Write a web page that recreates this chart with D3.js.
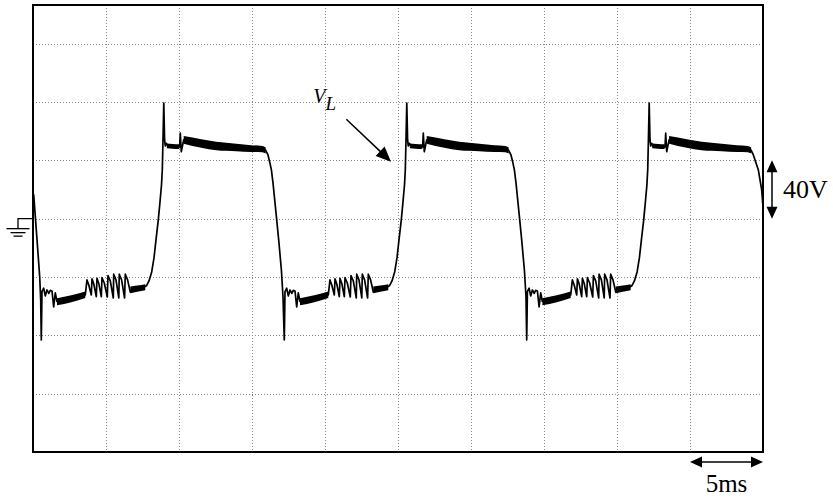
<!DOCTYPE html>
<html><head><meta charset="utf-8">
<script src="https://cdn.jsdelivr.net/npm/d3@7"></script>
<style>
html,body{margin:0;padding:0;background:#fff;}
svg{display:block;}
</style></head>
<body>
<svg id="c" width="833" height="500"></svg>
<script>
// ---- data (time in ms, voltage in V) ----
const timeGrid = [5,10,15,20,25,30,35,40,45];
const voltGrid = [-120,-80,-40,0,40,80,120];
const timeDomain = [0, 50];
const voltDomain = [-160, 146.5];

const leadIn = [[0,14.9],[0.048,16.3],[0.226,-7.7],[0.459,-39.8],[0.527,-55.7]];

const cycle1 = [[0.568,-83.2],[0.616,-50.1],[0.732,-47.7],[0.842,-53.0],[0.958,-48.9],[1.082,-51.3],[1.184,-49.2],[1.301,-49.6],[1.417,-60.5],[1.527,-50.9],[1.643,-56.8],[3.582,-52.3],
[3.698,-42.0],[3.821,-45.5],[3.993,-52.3],[4.041,-41.3],[4.164,-44.8],[4.335,-53.5],[4.383,-40.9],[4.506,-44.4],[4.678,-53.5],[4.726,-40.5],[4.883,-44.1],[5.089,-53.7],[5.136,-39.1],[5.294,-42.7],[5.500,-54.4],[5.527,-38.1],[5.684,-42.0],[5.876,-54.4],[5.910,-38.1],[6.068,-42.0],[6.273,-54.4],[6.321,-38.1],[6.479,-42.0],[6.664,-50.3],
[7.143,-47.9],[7.691,-46.5],[7.787,-45.8],[7.945,-42.7],[8.130,-36.5],[8.287,-26.9],[8.424,-14.6],[8.582,-0.9],[8.698,11.5],[8.801,23.1],[8.856,33.4],[8.904,54.0],[8.958,79.3],[9.013,54.0],[9.061,49.8],[9.130,51.6],[9.267,49.2],[9.472,50.2],[9.678,48.8],[9.883,49.8],[10.041,49.2],[10.089,58.6],[10.157,45.9],[10.321,54.0],[11.527,51.6],[12.554,49.8],[14.952,48.1],[15.705,47.8],[15.938,46.8],[16.095,43.7],[16.212,38.9],[16.328,33.4],[16.438,24.5],[16.671,1.4],[16.828,-14.6],[17.013,-35.2],[17.123,-53.5]];

const cycle2 = [[17.212,-83.2],[17.260,-50.1],[17.376,-47.7],[17.486,-53.0],[17.602,-48.9],[17.726,-51.3],[17.828,-49.2],[17.945,-49.6],[18.061,-60.5],[18.171,-50.9],[18.287,-56.8],[20.226,-52.3],
[20.342,-42.0],[20.465,-45.5],[20.637,-52.3],[20.685,-41.3],[20.808,-44.8],[20.979,-53.5],[21.027,-40.9],[21.150,-44.4],[21.322,-53.5],[21.370,-40.5],[21.527,-44.1],[21.733,-53.7],[21.780,-39.1],[21.938,-42.7],[22.144,-54.4],[22.171,-38.1],[22.328,-42.0],[22.520,-54.4],[22.554,-38.1],[22.712,-42.0],[22.917,-54.4],[22.965,-38.1],[23.123,-42.0],[23.308,-50.3],
[23.787,-47.9],[24.335,-46.5],[24.431,-45.8],[24.589,-42.7],[24.774,-36.5],[24.931,-26.9],[25.068,-14.6],[25.226,-0.9],[25.342,11.5],[25.445,23.1],[25.500,33.4],[25.548,54.0],[25.602,79.3],[25.657,54.0],[25.705,49.8],[25.774,51.6],[25.911,49.2],[26.116,50.2],[26.322,48.8],[26.527,49.8],[26.685,49.2],[26.733,58.6],[26.801,45.9],[26.965,54.0],[28.171,51.6],[29.198,49.8],[31.596,48.1],[32.349,47.8],[32.582,46.8],[32.739,43.7],[32.856,38.9],[32.972,33.4],[33.082,24.5],[33.315,1.4],[33.472,-14.6],[33.657,-35.2],[33.767,-53.5]];

const cycle3 = [[33.815,-83.2],[33.863,-50.1],[33.979,-47.7],[34.089,-53.0],[34.205,-48.9],[34.329,-51.3],[34.431,-49.2],[34.548,-49.6],[34.664,-60.5],[34.774,-50.9],[34.890,-56.8],[36.829,-52.3],
[36.945,-42.0],[37.068,-45.5],[37.240,-52.3],[37.288,-41.3],[37.411,-44.8],[37.582,-53.5],[37.630,-40.9],[37.753,-44.4],[37.925,-53.5],[37.973,-40.5],[38.130,-44.1],[38.336,-53.7],[38.383,-39.1],[38.541,-42.7],[38.747,-54.4],[38.774,-38.1],[38.931,-42.0],[39.123,-54.4],[39.157,-38.1],[39.315,-42.0],[39.520,-54.4],[39.568,-38.1],[39.726,-42.0],[39.911,-50.3],
[40.390,-47.9],[40.938,-46.5],[41.034,-45.8],[41.192,-42.7],[41.377,-36.5],[41.534,-26.9],[41.671,-14.6],[41.829,-0.9],[41.945,11.5],[42.048,23.1],[42.103,33.4],[42.151,54.0],[42.205,79.3],[42.260,54.0],[42.308,49.8],[42.377,51.6],[42.514,49.2],[42.719,50.2],[42.925,48.8],[43.130,49.8],[43.288,49.2],[43.336,58.6],[43.404,45.9],[43.568,54.0],[44.774,51.6],[45.801,49.8],[48.199,48.1],[48.950,47.8],[49.190,46.8],[49.340,43.7],[49.500,38.9],[49.680,33.4],[49.910,19.7],[50.000,8.0]];

// noise band envelopes [t, upper V, lower V]; null separates segments
const noiseBands = [
 [1.643,-54.5,-59.4],[2.623,-52.5,-57.3],[3.582,-49.9,-54.4], null,
 [6.664,-46.6,-51.1],[7.143,-45.9,-50.1],[7.691,-44.9,-49.1], null,
 [9.168,51.5,48.3],[9.568,51.2,48.0],[10.018,51.0,47.8], null,
 [10.321,56.6,51.4],[11.527,54.5,48.6],[12.554,52.8,46.9],[13.924,51.4,46.2],[14.952,50.4,45.7],[15.705,49.9,45.5],[15.938,48.8,44.7], null,
 [18.287,-54.5,-59.4],[19.267,-52.5,-57.3],[20.226,-49.9,-54.4], null,
 [23.308,-46.6,-51.1],[23.787,-45.9,-50.1],[24.335,-44.9,-49.1], null,
 [25.812,51.5,48.3],[26.212,51.2,48.0],[26.662,51.0,47.8], null,
 [26.965,56.6,51.4],[28.171,54.5,48.6],[29.198,52.8,46.9],[30.568,51.4,46.2],[31.596,50.4,45.7],[32.349,49.9,45.5],[32.582,48.8,44.7], null,
 [34.890,-54.5,-59.4],[35.870,-52.5,-57.3],[36.829,-49.9,-54.4], null,
 [39.911,-46.6,-51.1],[40.390,-45.9,-50.1],[40.938,-44.9,-49.1], null,
 [42.415,51.5,48.3],[42.815,51.2,48.0],[43.265,51.0,47.8], null,
 [43.568,56.6,51.4],[44.774,54.5,48.6],[45.801,52.8,46.9],[47.171,51.4,46.2],[48.199,50.4,45.7],[48.950,49.9,45.5],[49.190,48.8,44.7]
];

const voltScaleMark = [0, 40];      // one division, volts
const timeScaleMark = [45, 50];     // one division, ms
const voltLabel = "40V";
const timeLabel = "5ms";
const traceName = ["V", "L"];
const traceArrow = [[21.46, 68.2], [24.52, 39.1]]; // in (ms, V)
const traceNameAt = [19.2, 79.3];

// ---- drawing ----
const svg = d3.select("#c");
const box = {left:33, top:5, right:763, bottom:452};
const x = d3.scaleLinear().domain(timeDomain).range([box.left, box.right]);
const y = d3.scaleLinear().domain(voltDomain).range([box.bottom, box.top]);

svg.append("rect").attr("width",833).attr("height",500).attr("fill","#fff");

svg.append("defs").append("clipPath").attr("id","clip")
  .append("rect").attr("x",box.left).attr("y",box.top)
  .attr("width",box.right-box.left).attr("height",box.bottom-box.top);

const grid = svg.append("g").attr("stroke","#8a8a8a").attr("stroke-width",1).attr("stroke-dasharray","1,2");
grid.selectAll("line.v").data(timeGrid).join("line").attr("class","v")
  .attr("x1",d=>Math.round(x(d))+0.5).attr("x2",d=>Math.round(x(d))+0.5)
  .attr("y1",box.top).attr("y2",box.bottom);
grid.selectAll("line.h").data(voltGrid).join("line").attr("class","h")
  .attr("y1",d=>Math.round(y(d))+0.5).attr("y2",d=>Math.round(y(d))+0.5)
  .attr("x1",box.left).attr("x2",box.right);

const plot = svg.append("g").attr("clip-path","url(#clip)");
const area = d3.area().defined(d=>d!==null)
  .x(d=>x(d[0])).y0(d=>y(d[2])).y1(d=>y(d[1])).curve(d3.curveMonotoneX);
plot.append("path").attr("d",area(noiseBands)).attr("fill","#000");

const trace = leadIn.concat(cycle1, cycle2, cycle3);
const line = d3.line().x(d=>x(d[0])).y(d=>y(d[1]));
plot.append("path").attr("d",line(trace)).attr("fill","none")
  .attr("stroke","#000").attr("stroke-width",1.7).attr("stroke-linejoin","round");

// frame
svg.append("rect").attr("x",box.left).attr("y",box.top)
  .attr("width",box.right-box.left).attr("height",box.bottom-box.top)
  .attr("fill","none").attr("stroke","#000").attr("stroke-width",2);

// arrow helper
function head(g, tx, ty, fx, fy, len, hw){
  const dx=tx-fx, dy=ty-fy, L=Math.hypot(dx,dy), ux=dx/L, uy=dy/L;
  const bx=tx-ux*len, by=ty-uy*len;
  g.append("path").attr("d",`M${tx},${ty}L${bx-uy*hw},${by+ux*hw}L${bx+uy*hw},${by-ux*hw}Z`).attr("fill","#000");
}
const ann = svg.append("g");

// ground marker at 0 V
const gy = y(0);
ann.append("path").attr("d",`M${box.left},${gy}H${box.left-15}V${gy+10}`)
  .attr("fill","none").attr("stroke","#000").attr("stroke-width",1.3);
[[11.5,10],[7.5,14],[4.5,17.5]].forEach(([hw,dy])=>{
  ann.append("line").attr("x1",box.left-15-hw).attr("x2",box.left-15+hw)
    .attr("y1",gy+dy).attr("y2",gy+dy).attr("stroke","#000").attr("stroke-width",1.3);
});

// 40V bar
const vx = box.right + 9;
const vy0 = y(voltScaleMark[0]), vy1 = y(voltScaleMark[1]);
ann.append("line").attr("x1",vx).attr("x2",vx).attr("y1",vy1+8).attr("y2",vy0-8).attr("stroke","#000").attr("stroke-width",1.5);
head(ann, vx, vy1, vx, vy0, 12, 5.5);
head(ann, vx, vy0, vx, vy1, 12, 5.5);
ann.append("text").attr("x",vx+11).attr("y",(vy0+vy1)/2+8.5)
  .attr("font-family","Liberation Serif, Times New Roman, serif").attr("font-size",26).text(voltLabel);

// 5ms bar
const hy = box.bottom + 10;
const hx0 = x(timeScaleMark[0]), hx1 = x(timeScaleMark[1]);
ann.append("line").attr("x1",hx0+8).attr("x2",hx1-8).attr("y1",hy).attr("y2",hy).attr("stroke","#000").attr("stroke-width",1.5);
head(ann, hx0, hy, hx1, hy, 12, 5.5);
head(ann, hx1, hy, hx0, hy, 12, 5.5);
ann.append("text").attr("x",(hx0+hx1)/2).attr("y",hy+30).attr("text-anchor","middle")
  .attr("font-family","Liberation Serif, Times New Roman, serif").attr("font-size",25).text(timeLabel);

// V_L label + arrow
const a0 = [x(traceArrow[0][0]), y(traceArrow[0][1])];
const a1 = [x(traceArrow[1][0]), y(traceArrow[1][1])];
ann.append("line").attr("x1",a0[0]).attr("y1",a0[1]).attr("x2",(a1[0]*0.8+a0[0]*0.2)).attr("y2",(a1[1]*0.8+a0[1]*0.2))
  .attr("stroke","#000").attr("stroke-width",1.5);
head(ann, a1[0], a1[1], a0[0], a0[1], 15, 6.5);
const lbl = ann.append("text").attr("x",x(traceNameAt[0])).attr("y",y(traceNameAt[1]))
  .attr("font-family","Liberation Serif, Times New Roman, serif").attr("font-style","italic").attr("font-size",20);
lbl.append("tspan").text(traceName[0]);
lbl.append("tspan").attr("dy",7).attr("font-size",19).text(traceName[1]);
</script>
</body></html>
